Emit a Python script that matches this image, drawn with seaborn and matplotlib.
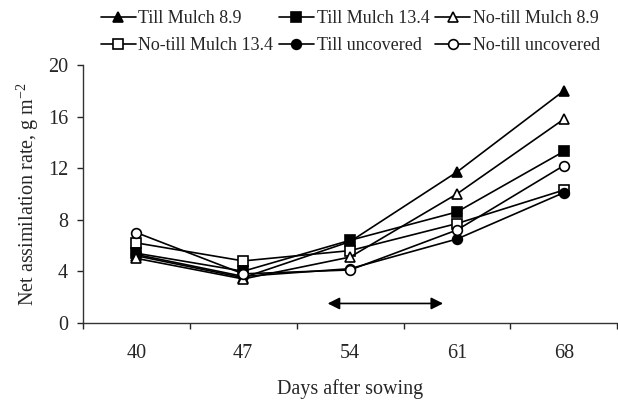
import numpy as np
import pandas as pd
import matplotlib
matplotlib.use('Agg')
import matplotlib.pyplot as plt
import seaborn as sns

days = ['40', '47', '54', '61', '68']
till_mulch_89 = [5.2, 3.5, 6.3, 11.7, 18.0]
till_mulch_134 = [5.4, 4.0, 6.4, 8.6, 13.3]
notill_mulch_89 = [5.0, 3.4, 5.1, 10.0, 15.8]
notill_mulch_134 = [6.2, 4.8, 5.6, 7.7, 10.3]
till_uncovered = [5.3, 3.6, 4.2, 6.5, 10.1]
notill_uncovered = [7.0, 3.8, 4.1, 7.2, 12.2]

sns.set_style('ticks')
plt.rcParams['font.family'] = ['Liberation Serif', 'DejaVu Serif']
plt.rcParams['mathtext.fontset'] = 'custom'
plt.rcParams['mathtext.rm'] = 'Liberation Serif'

fig, ax = plt.subplots(figsize=(6.18, 4.01), dpi=100)
fig.subplots_adjust(left=0.134, right=0.999, bottom=0.195, top=0.838)

x = np.arange(len(days))
series = [
    ('Till Mulch 8.9', till_mulch_89, '^', 'black'),
    ('No-till Mulch 13.4', notill_mulch_134, 's', 'white'),
    ('Till Mulch 13.4', till_mulch_134, 's', 'black'),
    ('Till uncovered', till_uncovered, 'o', 'black'),
    ('No-till Mulch 8.9', notill_mulch_89, '^', 'white'),
    ('No-till uncovered', notill_uncovered, 'o', 'white'),
]
for name, vals, m, fc in series:
    sns.lineplot(x=x, y=vals, ax=ax, color='black', lw=1.2, marker=m,
                 markersize=7, markerfacecolor=fc, markeredgecolor='black',
                 markeredgewidth=1.2, label=name)

# arrow under days 54-61
ax.annotate('', xy=(1.79, 1.5), xytext=(2.87, 1.5),
            arrowprops=dict(arrowstyle='<|-|>', color='black', lw=1.2,
                            mutation_scale=18, shrinkA=0, shrinkB=0))

ax.set_xlim(-0.5, 4.5)
ax.set_ylim(0, 20)
ax.set_yticks(range(0, 21, 4))
ax.set_xticks(x, days)
ax.set_xticks(np.arange(-0.5, 5, 1), minor=True)
ax.tick_params(axis='x', which='major', length=0, pad=15, labelsize=14.5)
ax.tick_params(axis='x', which='minor', length=4, direction='out', width=1)
ax.tick_params(axis='y', length=4.5, direction='out', width=1, labelsize=14.5, pad=6)
for s in ['top', 'right']:
    ax.spines[s].set_visible(False)
for s in ['left', 'bottom']:
    ax.spines[s].set_color('#333333')
    ax.spines[s].set_linewidth(1)
ax.set_xlabel('Days after sowing', fontsize=14.5, labelpad=12)
ax.set_ylabel('Net assimilation rate, g m$^{\\mathregular{-2}}$', fontsize=14.5, labelpad=5)

handles, labels = ax.get_legend_handles_labels()
ax.get_legend().remove()
fig.legend(handles, labels, ncol=3, loc='upper left', bbox_to_anchor=(0.151, 0.992),
           frameon=False, fontsize=13, handlelength=1.95, handletextpad=0.15,
           columnspacing=0.3, labelspacing=0.55, borderaxespad=0)

fig.savefig('out.png', dpi=100)
